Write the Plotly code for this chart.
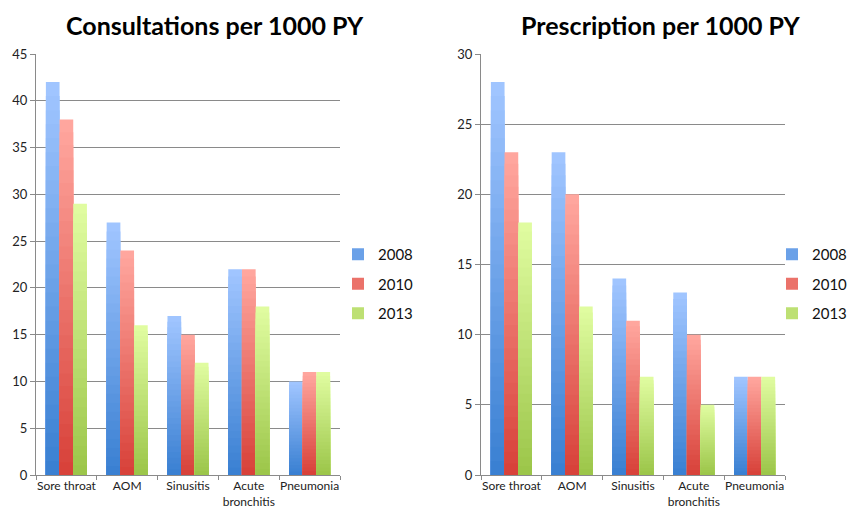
import plotly.graph_objects as go

categories = ["Sore throat", "AOM", "Sinusitis", "Acute<br>bronchitis", "Pneumonia"]
years = ["2008", "2010", "2013"]

consult_2008 = [42, 27, 17, 22, 10]
consult_2010 = [38, 24, 15, 22, 11]
consult_2013 = [29, 16, 12, 18, 11]

presc_2008 = [28, 23, 14, 13, 7]
presc_2010 = [23, 20, 11, 10, 7]
presc_2013 = [18, 12, 7, 5, 7]

consult_ticks = [0, 5, 10, 15, 20, 25, 30, 35, 40, 45]
presc_ticks = [0, 5, 10, 15, 20, 25, 30]

# gradient colours (top light -> bottom dark)
light = [(160, 197, 255), (255, 166, 158), (224, 252, 160)]
dark = [(58, 128, 210), (216, 66, 58), (156, 198, 74)]

N = 28
BW = 0.225
FONT = "Lato, 'Open Sans', sans-serif"
W, H = 845, 503  # page body has an 8px margin on every side


def mix(a, b, t):
    return "rgb(%d,%d,%d)" % tuple(round(a[i] + (b[i] - a[i]) * t) for i in range(3))


fig = go.Figure()

panels = [
    ("x", "y", [consult_2008, consult_2010, consult_2013], "legend"),
    ("x2", "y2", [presc_2008, presc_2010, presc_2013], "legend2"),
]

for xa, ya, series, leg in panels:
    for si, vals in enumerate(series):
        for k in range(N):
            frac = 1 - k / N
            col = mix(light[si], dark[si], k / (N - 1))
            fig.add_trace(go.Bar(
                x=categories,
                y=[v * frac for v in vals],
                xaxis=xa, yaxis=ya,
                width=BW,
                offset=-1.5 * BW + si * BW,
                marker=dict(color=col, line=dict(width=0)),
                name=years[si],
                legendgroup=leg + years[si],
                legend=leg,
                showlegend=(k == N // 2),
                hoverinfo="skip",
            ))

axis_common = dict(
    showline=True, linecolor="#8a8a8a", linewidth=1, automargin=False,
)
xfont = dict(family=FONT, size=12, color="#222")
yfont = dict(family=FONT, size=13, color="#222")
legfont = dict(family=FONT, size=15, color="#111")

# positions in figure pixels (page pixel minus 8)
ydom = [1 - 467 / H, 1 - 46 / H]

fig.update_layout(
    width=W, height=H,
    margin=dict(l=0, r=0, t=0, b=0, autoexpand=False),
    paper_bgcolor="white", plot_bgcolor="white",
    barmode="overlay",
    font=dict(family=FONT, color="#111"),
    xaxis=dict(domain=[28 / W, 332 / W], anchor="y", ticks="outside", tickson="boundaries",
               ticklen=4, tickcolor="#8a8a8a", showgrid=False, tickangle=0, tickfont=xfont,
               **axis_common),
    yaxis=dict(domain=ydom, anchor="x", range=[0, 45], tickvals=consult_ticks,
               ticks="outside", ticklen=5, tickcolor="#8a8a8a", tickfont=yfont,
               showgrid=True, gridcolor="#8a8a8a", gridwidth=1, zeroline=False, **axis_common),
    xaxis2=dict(domain=[473 / W, 777 / W], anchor="y2", ticks="outside", tickson="boundaries",
                ticklen=4, tickcolor="#8a8a8a", showgrid=False, tickangle=0, tickfont=xfont,
                **axis_common),
    yaxis2=dict(domain=ydom, anchor="x2", range=[0, 30], tickvals=presc_ticks,
                ticks="outside", ticklen=5, tickcolor="#8a8a8a", tickfont=yfont,
                showgrid=True, gridcolor="#8a8a8a", gridwidth=1, zeroline=False, **axis_common),
    legend=dict(x=330 / W, y=1 - 230 / H, xanchor="left", yanchor="top", tracegroupgap=7,
                itemwidth=30, font=legfont, bgcolor="rgba(0,0,0,0)"),
    legend2=dict(x=1, y=1 - 230 / H, xanchor="right", yanchor="top", tracegroupgap=7,
                 itemwidth=30, font=legfont, bgcolor="rgba(0,0,0,0)"),
    annotations=[
        dict(text="<b>Consultations per 1000 PY</b>", x=207 / W, y=1,
             xref="paper", yref="paper", xanchor="center", yanchor="top", showarrow=False,
             font=dict(family=FONT, size=25, color="#000")),
        dict(text="<b>Prescription per 1000 PY</b>", x=652 / W, y=1,
             xref="paper", yref="paper", xanchor="center", yanchor="top", showarrow=False,
             font=dict(family=FONT, size=25, color="#000")),
    ],
)

fig.write_html("out.html")
